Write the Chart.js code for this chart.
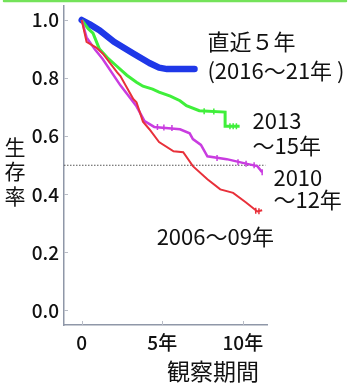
<!DOCTYPE html>
<html>
<head>
<meta charset="utf-8">
<script src="https://cdn.jsdelivr.net/npm/chart.js@4.4.1/dist/chart.umd.min.js"></script>
<style>
  html, body { margin: 0; padding: 0; background: #fff; }
  #myChart { display: block; }
</style>
</head>
<body>
<canvas id="myChart" width="351" height="389"></canvas>
<script>
// survival curves, x = years of observation, y = survival rate
const recentVals = [[0, 1.0], [0.5, 0.985], [1.1, 0.965], [2.0, 0.925], [3.2, 0.885], [4.2, 0.852], [4.8, 0.836], [5.3, 0.831], [7.0, 0.831]];
const y2013Vals = [[0, 1.0], [0.4, 0.97], [0.7, 0.955], [1.1, 0.9], [1.6, 0.87], [2.2, 0.84], [2.8, 0.81], [3.4, 0.786], [3.8, 0.772], [4.4, 0.762], [4.8, 0.752], [5.5, 0.738], [6.1, 0.722], [6.5, 0.705], [7.3, 0.688], [8.9, 0.683], [8.9, 0.634], [9.8, 0.634]];
const y2010Vals = [[0, 1.0], [0.3, 0.94], [0.8, 0.9], [1.3, 0.866], [2.4, 0.775], [3.4, 0.703], [3.9, 0.652], [4.5, 0.632], [6.1, 0.624], [6.7, 0.61], [6.9, 0.59], [7.4, 0.57], [7.8, 0.531], [9.0, 0.521], [10.4, 0.503], [10.9, 0.497], [11.2, 0.476]];
const y2006Vals = [[0, 1.0], [0.3, 0.925], [0.9, 0.905], [1.3, 0.885], [2.2, 0.82], [2.4, 0.807], [3.2, 0.728], [3.4, 0.717], [3.8, 0.65], [4.2, 0.624], [4.8, 0.58], [5.7, 0.548], [6.3, 0.545], [6.9, 0.497], [7.8, 0.452], [8.6, 0.417], [9.4, 0.405], [10.2, 0.372], [10.9, 0.341], [11.2, 0.345]];
const halfLine = [[-1.1, 0.5], [11.4, 0.5]];

// censored cases (small vertical marks on the curves)
const y2013Cens = [[7.6, 0.686], [8.2, 0.685], [9.2, 0.634], [9.4, 0.634], [9.6, 0.634]];
const y2010Cens = [[4.7, 0.632], [5.1, 0.63], [5.6, 0.628], [8.4, 0.525], [9.7, 0.51], [10.2, 0.505], [10.7, 0.5], [11.2, 0.476]];
const y2006Cens = [[10.8, 0.343], [11.0, 0.342]];

const xTicks = [0, 5, 10];
const xTickLabels = ['0', '5年', '10年'];
const yTicks = [0, 0.2, 0.4, 0.6, 0.8, 1.0];
const yTickLabels = ['0.0', '0.2', '0.4', '0.6', '0.8', '1.0'];

// labels next to the curves: text, x (years), y (rate)
const curveLabels = [
    ['直近５年', 7.8, 0.925],
    ['(2016～21年 )', 7.8, 0.825],
    ['2013', 10.6, 0.652],
    ['～15年', 10.6, 0.569],
    ['2010', 11.9, 0.459],
    ['～12年', 11.9, 0.38],
    ['2006～09年', 4.65, 0.255]
];
const yTitle = ['生', '存', '率'];
const xTitle = '観察期間';

const numFont = "'Noto Sans CJK JP', sans-serif";
const jpFont = "'Noto Sans CJK JP', sans-serif";

function toPoints(arr) {
    return arr.map(p => ({ x: p[0], y: p[1] }));
}

function censorSet(arr, color) {
    return {
        data: toPoints(arr),
        showLine: false,
        pointStyle: 'line',
        rotation: 90,
        pointRadius: 3,
        pointBorderWidth: 1.5,
        borderColor: color,
        backgroundColor: color,
    };
}

// green rule, inner tick marks and all free text
const decorPlugin = {
    id: 'decor',
    beforeDraw(chart) {
        const ctx = chart.ctx;
        ctx.save();
        ctx.strokeStyle = '#74e35a';
        ctx.lineWidth = 2.5;
        ctx.lineCap = 'round';
        ctx.beginPath();
        ctx.moveTo(4, 1);
        ctx.lineTo(346, 1);
        ctx.stroke();
        ctx.restore();
    },
    afterDraw(chart) {
        const ctx = chart.ctx;
        const xs = chart.scales.x;
        const ys = chart.scales.y;
        ctx.save();
        ctx.strokeStyle = '#b8bcc6';
        ctx.lineWidth = 1;
        yTicks.forEach(v => {
            let py = Math.round(ys.getPixelForValue(v)) + 0.5;
            ctx.beginPath();
            ctx.moveTo(xs.left, py);
            ctx.lineTo(xs.left + 4, py);
            ctx.stroke();
        });
        xTicks.forEach(v => {
            let px = Math.round(xs.getPixelForValue(v)) + 0.5;
            ctx.beginPath();
            ctx.moveTo(px, ys.bottom);
            ctx.lineTo(px, ys.bottom - 4);
            ctx.stroke();
        });

        ctx.fillStyle = '#111';
        ctx.textBaseline = 'middle';
        ctx.textAlign = 'left';
        ctx.font = '22px ' + jpFont;
        curveLabels.forEach(l => {
            ctx.fillText(l[0], xs.getPixelForValue(l[1]), ys.getPixelForValue(l[2]));
        });

        ctx.font = '23px ' + jpFont;
        ctx.fillText(xTitle, 167, 371);

        ctx.textAlign = 'center';
        ctx.font = '21px ' + jpFont;
        yTitle.forEach((c, i) => {
            ctx.fillText(c, 15, 147 + i * 24.5);
        });
        ctx.restore();
    }
};

var mychart = new Chart('myChart', {
    type: 'line',
    data: {
        datasets: [{
            label: '2006～09年',
            data: toPoints(y2006Vals),
            borderColor: '#e8303a',
            borderWidth: 2,
            pointRadius: 0,
            fill: false,
        },
        censorSet(y2006Cens, '#e8303a'),
        {
            label: '2010～12年',
            data: toPoints(y2010Vals),
            borderColor: '#c93ce0',
            borderWidth: 2.5,
            pointRadius: 0,
            fill: false,
        },
        censorSet(y2010Cens, '#c93ce0'),
        {
            label: '2013～15年',
            data: toPoints(y2013Vals),
            borderColor: '#3fef3a',
            borderWidth: 3,
            pointRadius: 0,
            fill: false,
        },
        censorSet(y2013Cens, '#3fef3a'),
        {
            label: '直近５年',
            data: toPoints(recentVals),
            borderColor: '#1f38e8',
            borderWidth: 6.5,
            borderCapStyle: 'round',
            borderJoinStyle: 'round',
            pointRadius: 0,
            fill: false,
        },
        {
            label: '0.5',
            data: toPoints(halfLine),
            borderColor: '#555',
            borderWidth: 1,
            borderDash: [1.5, 1.5],
            pointRadius: 0,
            fill: false,
        }]
    },
    options: {
        responsive: false,
        animation: false,
        devicePixelRatio: 1,
        layout: { padding: { left: 0, right: 84, top: 5, bottom: 0 } },
        plugins: {
            legend: { display: false },
            tooltip: { enabled: false }
        },
        scales: {
            x: {
                type: 'linear',
                min: -1.1,
                max: 11.5,
                afterFit(scale) {
                    scale.height = 64;
                    scale.paddingLeft = 0;
                    scale.paddingRight = 0;
                },
                afterBuildTicks(scale) { scale.ticks = xTicks.map(v => ({ value: v })); },
                grid: { display: false, drawTicks: false },
                border: { color: '#8f97a8', width: 1.5 },
                ticks: {
                    padding: 6,
                    color: '#111',
                    font: { family: numFont, size: 19, weight: '500' },
                    callback: (v) => xTickLabels[xTicks.indexOf(v)]
                }
            },
            y: {
                type: 'linear',
                min: -0.05,
                max: 1.05,
                afterFit(scale) {
                    scale.width = 64;
                    scale.paddingTop = 0;
                    scale.paddingBottom = 0;
                },
                afterBuildTicks(scale) { scale.ticks = yTicks.map(v => ({ value: v })); },
                grid: { display: false, drawTicks: false },
                border: { color: '#8f97a8', width: 1.5 },
                ticks: {
                    padding: 5,
                    color: '#111',
                    font: { family: numFont, size: 19, weight: '500' },
                    callback: (v) => yTickLabels[yTicks.indexOf(v)]
                }
            }
        }
    },
    plugins: [decorPlugin]
});
</script>
</body>
</html>
